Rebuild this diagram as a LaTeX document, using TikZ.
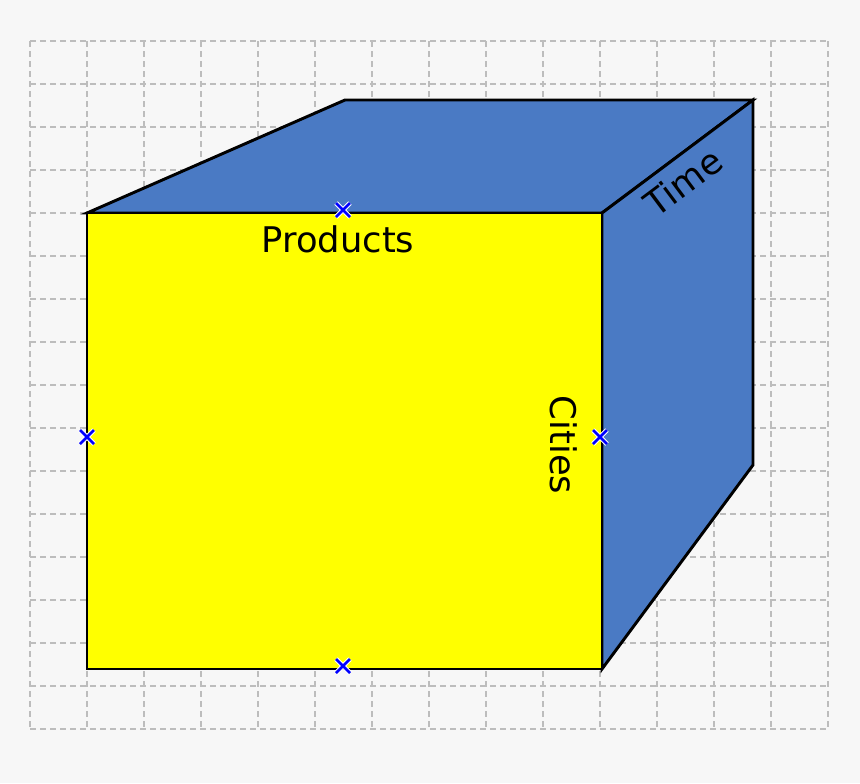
\documentclass[tikz,border=0pt]{standalone}
\usepackage{fontspec}
\setmainfont{DejaVu Sans}
\definecolor{bgpage}{HTML}{F7F7F7}
\definecolor{cubeblue}{HTML}{4A7AC4}
\definecolor{cubeyellow}{HTML}{FFFF00}
\definecolor{markblue}{HTML}{0000FF}
\definecolor{gridgray}{HTML}{BDBDBD}
\begin{document}
\begin{tikzpicture}[x=0.75pt,y=-0.75pt,
    gridline/.style={gridgray,line width=0.9pt,dash pattern=on 4.5pt off 3pt},
    face/.style={draw=black,line width=2.2pt,line join=miter},
    axisname/.style={font=\fontsize{26.5}{26.5}\selectfont,inner sep=0pt},
    xhalo/.style={white,line width=3.6pt},
    xmark/.style={markblue,line width=1.9pt}]
    \useasboundingbox[fill=bgpage] (0,0) rectangle (860,783);
    % grid
    \foreach \i in {0,...,14}
        \draw[gridline] ({30+57*\i},41) -- ({30+57*\i},729);
    \foreach \j in {0,...,16}
        \draw[gridline] (30,{41+43*\j}) -- (828,{41+43*\j});
    % corners
    \coordinate (fTL) at (87,213);
    \coordinate (fTR) at (602,213);
    \coordinate (fBR) at (602,669);
    \coordinate (fBL) at (87,669);
    \coordinate (bTL) at (345,100);
    \coordinate (bTR) at (753,100);
    \coordinate (bBR) at (753,465);
    % top
    \draw[face,fill=cubeblue] (fTL) -- (bTL) -- (bTR) -- (fTR) -- cycle;
    % side
    \draw[face,fill=cubeblue] (fTR) -- (bTR) -- (bBR) -- (fBR) -- cycle;
    % front
    \draw[face,fill=cubeyellow] (fBL) rectangle (fTR);
    % names
    \node[axisname] (products) at (338,239) {Products};
    \node[axisname,rotate=-90] (cities) at (564,445) {Cities};
    \node[axisname,rotate=36.8] (time) at (683,182) {Time};
    % marks
    \coordinate (pTop) at (343,210);
    \coordinate (pLeft) at (87,437);
    \coordinate (pRight) at (600,437);
    \coordinate (pBottom) at (343,666);
    \foreach \p in {pTop,pLeft,pRight,pBottom} {
        \draw[xhalo] (\p) +(-7,-7) -- +(7,7) (\p) +(-7,7) -- +(7,-7);
        \draw[xmark] (\p) +(-7,-7) -- +(7,7) (\p) +(-7,7) -- +(7,-7);
    }
\end{tikzpicture}
\end{document}
